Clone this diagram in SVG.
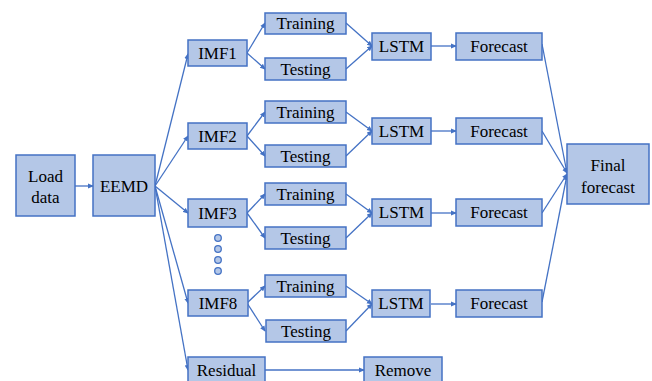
<svg xmlns="http://www.w3.org/2000/svg" width="652" height="381" viewBox="0 0 652 381">
<style>
.b{fill:#B4C7E7;stroke:#4472C4;stroke-width:1.5}
text{font-size:17px;fill:#000;text-anchor:middle;dominant-baseline:central}
.c line{stroke:#4472C4;stroke-width:1.3;marker-end:url(#a)}
.d{fill:#B4C7E7;stroke:#4472C4;stroke-width:1.3}
</style>
<defs>
<marker id="a" markerWidth="6" markerHeight="6" refX="5" refY="3" orient="auto" markerUnits="userSpaceOnUse">
<path d="M0,0.5 L6,3 L0,5.5 z" fill="#4472C4"/>
</marker>
</defs>
<rect width="652" height="381" fill="#fff"/>
<g class="c">
<line x1="75" y1="186" x2="93" y2="186"/>
<line x1="155" y1="186" x2="188" y2="54"/>
<line x1="155" y1="186" x2="188" y2="136"/>
<line x1="155" y1="186" x2="188" y2="213"/>
<line x1="155" y1="186" x2="188" y2="303"/>
<line x1="155" y1="186" x2="188" y2="370"/>
<line x1="247" y1="53" x2="265" y2="23"/>
<line x1="247" y1="53" x2="265" y2="69"/>
<line x1="346" y1="23" x2="372" y2="46"/>
<line x1="346" y1="69" x2="372" y2="46"/>
<line x1="431" y1="46" x2="456" y2="46"/>
<line x1="247" y1="136" x2="265" y2="112"/>
<line x1="247" y1="136" x2="265" y2="156"/>
<line x1="346" y1="112" x2="372" y2="131"/>
<line x1="346" y1="156" x2="372" y2="131"/>
<line x1="431" y1="131" x2="456" y2="131"/>
<line x1="247" y1="213" x2="265" y2="194"/>
<line x1="247" y1="213" x2="265" y2="238"/>
<line x1="346" y1="194" x2="372" y2="213"/>
<line x1="346" y1="238" x2="372" y2="213"/>
<line x1="431" y1="213" x2="456" y2="213"/>
<line x1="247" y1="303" x2="265" y2="286"/>
<line x1="247" y1="303" x2="265" y2="331"/>
<line x1="346" y1="286" x2="372" y2="304"/>
<line x1="346" y1="331" x2="372" y2="304"/>
<line x1="431" y1="304" x2="456" y2="304"/>
<line x1="265" y1="370" x2="364" y2="370"/>
<line x1="542" y1="44" x2="567" y2="173"/>
<line x1="542" y1="131" x2="567" y2="173"/>
<line x1="542" y1="213" x2="567" y2="174"/>
<line x1="542" y1="302" x2="567" y2="175"/>
</g>
<g font-family="Liberation Serif, Times New Roman, Times, serif">
<g id="load"><rect class="b" x="16" y="155" width="59" height="61"/><text x="45.5" y="176">Load</text><text x="45.5" y="197">data</text></g>
<g id="eemd"><rect class="b" x="93" y="155" width="62" height="61"/><text x="124" y="186">EEMD</text></g>
<g id="imf1"><rect class="b" x="188" y="40" width="59" height="26"/><text x="217.5" y="53">IMF1</text></g>
<g id="train1"><rect class="b" x="265" y="13" width="81" height="21"/><text x="305.5" y="23">Training</text></g>
<g id="test1"><rect class="b" x="265" y="58" width="81" height="22"/><text x="305.5" y="69">Testing</text></g>
<g id="lstm1"><rect class="b" x="372" y="33" width="59" height="27"/><text x="401.5" y="46.5">LSTM</text></g>
<g id="fc1"><rect class="b" x="456" y="33" width="86" height="27"/><text x="499" y="46.5">Forecast</text></g>
<g id="imf2"><rect class="b" x="188" y="123" width="59" height="26"/><text x="217.5" y="136">IMF2</text></g>
<g id="train2"><rect class="b" x="265" y="101" width="81" height="22"/><text x="305.5" y="112">Training</text></g>
<g id="test2"><rect class="b" x="265" y="145" width="81" height="22"/><text x="305.5" y="156">Testing</text></g>
<g id="lstm2"><rect class="b" x="372" y="118" width="59" height="26"/><text x="401.5" y="131">LSTM</text></g>
<g id="fc2"><rect class="b" x="456" y="118" width="86" height="26"/><text x="499" y="131">Forecast</text></g>
<g id="imf3"><rect class="b" x="188" y="199" width="59" height="28"/><text x="217.5" y="213">IMF3</text></g>
<g id="train3"><rect class="b" x="265" y="183" width="81" height="22"/><text x="305.5" y="194">Training</text></g>
<g id="test3"><rect class="b" x="265" y="227" width="81" height="22"/><text x="305.5" y="238">Testing</text></g>
<g id="lstm3"><rect class="b" x="372" y="199" width="59" height="27"/><text x="401.5" y="212.5">LSTM</text></g>
<g id="fc3"><rect class="b" x="456" y="199" width="86" height="27"/><text x="499" y="212.5">Forecast</text></g>
<g id="dots"><circle class="d" cx="218" cy="238" r="3.3"/><circle class="d" cx="218" cy="249" r="3.3"/><circle class="d" cx="218" cy="260" r="3.3"/><circle class="d" cx="218" cy="271" r="3.3"/></g>
<g id="imf8"><rect class="b" x="188" y="290" width="60" height="26"/><text x="218" y="303">IMF8</text></g>
<g id="train4"><rect class="b" x="265" y="275" width="81" height="22"/><text x="305.5" y="286">Training</text></g>
<g id="test4"><rect class="b" x="266" y="320" width="80" height="22"/><text x="306" y="331">Testing</text></g>
<g id="lstm4"><rect class="b" x="372" y="290" width="58" height="27"/><text x="401" y="303.5">LSTM</text></g>
<g id="fc4"><rect class="b" x="456" y="290" width="86" height="27"/><text x="499" y="303.5">Forecast</text></g>
<g id="resid"><rect class="b" x="188" y="357" width="77" height="26"/><text x="226.5" y="370">Residual</text></g>
<g id="remove"><rect class="b" x="364" y="357" width="78" height="26"/><text x="403" y="370">Remove</text></g>
<g id="final"><rect class="b" x="567" y="144" width="82" height="60"/><text x="608" y="165">Final</text><text x="608" y="187">forecast</text></g>
</g>
</svg>
